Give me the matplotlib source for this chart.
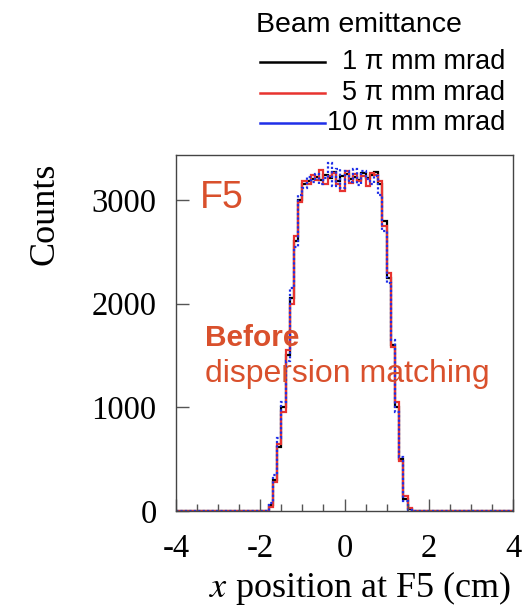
import numpy as np
import matplotlib
matplotlib.use("Agg")
import matplotlib.pyplot as plt
from matplotlib.lines import Line2D

plt.rcParams["axes.unicode_minus"] = False

# histogram binning (cm) and counts for the non-empty bins, starting at x_start
bin_width = 0.1
x_start = -1.8
counts_1pi = [60, 300, 620, 1000, 1500, 2050, 2600, 3000,
              3150, 3180, 3200, 3220, 3190, 3240, 3210, 3270, 3180, 3230,
              3250, 3200, 3220, 3190, 3260, 3210, 3240, 3270,
              3150, 2800, 2250, 1600, 1000, 500, 120, 20]
counts_5pi = [40, 280, 650, 950, 1550, 2000, 2650, 2980,
              3180, 3150, 3240, 3190, 3290, 3150, 3230, 3260, 3150, 3090,
              3280, 3160, 3250, 3180, 3230, 3130, 3260, 3240,
              3180, 2750, 2300, 1580, 1050, 480, 140, 30]
counts_10pi = [80, 350, 700, 1050, 1450, 2150, 2550, 3050,
               3120, 3220, 3170, 3250, 3150, 3210, 3360, 3130, 3300, 3120,
               3280, 3170, 3300, 3140, 3280, 3200, 3150, 3230,
               3050, 2700, 2200, 1650, 950, 520, 100, 10]
labels = ["  1 \u03c0 mm mrad", "  5 \u03c0 mm mrad", "10 \u03c0 mm mrad"]
colors = ["black", "#e8332f", "#1f2fe8"]

edges = np.round(np.arange(-4, 4 + bin_width / 2, bin_width), 3)
i0 = int(round((x_start + 4) / bin_width))


def full(vals):
    h = np.zeros(len(edges) - 1)
    h[i0:i0 + len(vals)] = vals
    return h


fig = plt.figure(figsize=(5.30, 6.14), dpi=100)
ax = fig.add_axes([0.332, 0.1678, 0.636, 0.5798])

ax.stairs(full(counts_1pi), edges, color=colors[0], lw=1.6)
ax.stairs(full(counts_5pi), edges, color=colors[1], lw=1.6)
ax.stairs(full(counts_10pi), edges, color=colors[2], lw=1.6, ls=(0, (1, 1)))

ax.set_xlim(-4, 4)
ax.set_ylim(0, 3434)
ax.set_xticks([-4, -2, 0, 2, 4])
ax.set_xticks(np.arange(-4, 4.01, 0.5), minor=True)
ax.set_yticks([0, 1000, 2000, 3000])
ax.tick_params(axis="both", which="major", direction="in", length=9, width=1,
               labelsize=23.5, color="#555555")
ax.tick_params(axis="x", which="major", pad=16)
ax.tick_params(axis="y", which="major", pad=14)
ax.tick_params(axis="x", which="minor", direction="in", length=5, width=1, color="#555555")
for lab in ax.get_xticklabels() + ax.get_yticklabels():
    lab.set_family("Liberation Serif")
for s in ax.spines.values():
    s.set_color("#444444")
    s.set_linewidth(1)

# axis titles (ROOT style, right/top aligned)
fig.text(45 / 530, 1 - 214 / 614, "Counts", rotation=90, ha="center", va="center",
         family="Liberation Serif", fontsize=26)
fig.text(511 / 530, 1 - 588 / 614, r"$\mathit{x}$ position at F5 (cm)", ha="right", va="center",
         family="Liberation Serif", fontsize=26, math_fontfamily="stix")

# annotations
red_txt = "#d9502c"
ax.text(0.07, 0.88, "F5", transform=ax.transAxes, color=red_txt, fontsize=27,
        family="Liberation Sans", va="center", ha="left")
ax.text(0.085, 0.485, "Before", transform=ax.transAxes, color=red_txt, fontsize=21.5,
        family="Liberation Sans", fontweight="bold", va="center", ha="left")
ax.text(0.085, 0.385, "dispersion matching", transform=ax.transAxes, color=red_txt, fontsize=23,
        family="Liberation Sans", va="center", ha="left")

# legend above the frame
fig.text(359 / 530, 1 - 25 / 614, "Beam emittance", ha="center", va="center",
         family="Liberation Sans", fontsize=20.5)
for k, (lab, c) in enumerate(zip(labels, colors)):
    yy = 1 - (62 + 30.5 * k) / 614
    fig.add_artist(Line2D([260 / 530, 325 / 530], [yy, yy], transform=fig.transFigure,
                          color=c, lw=1.8))
    fig.text(505 / 530, yy, lab, ha="right", va="center", family="Liberation Sans", fontsize=19.5)

fig.savefig("out.png", dpi=100)
